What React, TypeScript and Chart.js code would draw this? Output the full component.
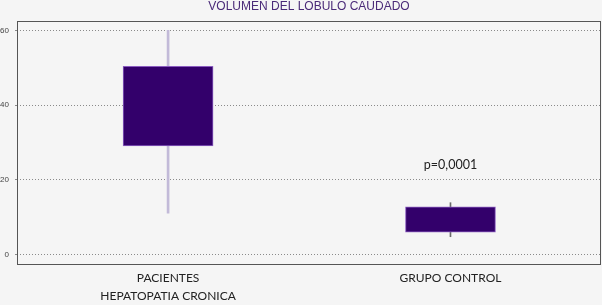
import React, { useEffect, useRef } from "react";
import { Chart, registerables } from "chart.js";

Chart.register(...registerables);

const categories: string[][] = [["PACIENTES", "HEPATOPATIA CRONICA"], ["GRUPO CONTROL"]];
const categoryPositions = [0, 1];
const boxLow = [29.1, 6.0];
const boxHigh = [50.4, 12.8];
const whiskerLow = [11.1, 4.8];
const whiskerHigh = [60, 13.9];
const yTicks = [0, 20, 40, 60];
const pValueText = "p=0,0001";
const pValueCategory = 1;
const pValueY = 24;
const chartTitle = "VOLUMEN DEL LOBULO CAUDADO";

const frameAndText = {
  id: "frameAndText",
  beforeDraw(chart: any) {
    const { ctx, width, height } = chart;
    ctx.save();
    ctx.fillStyle = "#f5f5f5";
    ctx.fillRect(0, 0, width, height);
    ctx.restore();
  },
  afterDraw(chart: any) {
    const { ctx, chartArea, scales } = chart;
    ctx.save();
    ctx.strokeStyle = "#555";
    ctx.lineWidth = 1;
    ctx.strokeRect(
      Math.round(chartArea.left) + 0.5,
      Math.round(chartArea.top) + 0.5,
      Math.round(chartArea.right - chartArea.left) - 1,
      Math.round(chartArea.bottom - chartArea.top)
    );
    ctx.textAlign = "center";
    ctx.textBaseline = "middle";
    ctx.fillStyle = "#4a2a78";
    ctx.font = "12px 'Liberation Sans', Arial, sans-serif";
    ctx.fillText(chartTitle, (chartArea.left + chartArea.right) / 2, 7);
    ctx.fillStyle = "#222";
    ctx.font = "12.5px Lato, 'Open Sans', sans-serif";
    ctx.fillText(
      pValueText,
      scales.x.getPixelForValue(categoryPositions[pValueCategory]),
      scales.y.getPixelForValue(pValueY)
    );
    ctx.restore();
  },
};

export default function App() {
  const ref = useRef<HTMLCanvasElement>(null);
  useEffect(() => {
    document.body.style.margin = "0";
    const canvas = ref.current!;
    const chart = new Chart(canvas, {
      type: "bar",
      data: {
        datasets: [
          {
            label: "box",
            data: categoryPositions.map((x, i) => ({ x, y: [boxLow[i], boxHigh[i]] })) as any,
            backgroundColor: "#33006b",
            borderColor: "#8a5cc0",
            borderWidth: 1,
            borderSkipped: false,
            barThickness: 90,
            grouped: false,
          } as any,
          {
            label: "whiskerA",
            data: [{ x: categoryPositions[0], y: [whiskerLow[0], whiskerHigh[0]] }] as any,
            backgroundColor: "#c2bad8",
            borderWidth: 0,
            barThickness: 2,
            grouped: false,
          } as any,
          {
            label: "whiskerB",
            data: [{ x: categoryPositions[1], y: [whiskerLow[1], whiskerHigh[1]] }] as any,
            backgroundColor: "#6a6a6a",
            borderWidth: 0,
            barThickness: 1,
            grouped: false,
          } as any,
        ],
      },
      options: {
        responsive: false,
        animation: false,
        layout: { padding: { top: 21, right: 1, left: 0, bottom: 0 } },
        plugins: {
          legend: { display: false },
          tooltip: { enabled: false },
          title: { display: false },
        },
        scales: {
          x: {
            type: "linear",
            offset: false,
            min: -0.535,
            max: 1.533,
            grid: { display: false, drawTicks: false, offset: false },
            border: { display: false },
            afterBuildTicks: (s: any) => {
              s.ticks = categoryPositions.map((v) => ({ value: v }));
            },
            afterFit: (s: any) => {
              s.height = 41;
            },
            ticks: {
              autoSkip: false,
              maxRotation: 0,
              padding: 5,
              color: "#222",
              font: { family: "Lato, 'Open Sans', sans-serif", size: 12, lineHeight: 1.5 },
              callback: (v: any) => {
                const i = categoryPositions.indexOf(Number(v));
                return i >= 0 ? categories[i] : "";
              },
            },
          },
          y: {
            type: "linear",
            min: -2.5,
            max: 62.5,
            afterBuildTicks: (s: any) => {
              s.ticks = yTicks.map((v) => ({ value: v }));
            },
            afterFit: (s: any) => {
              s.width = 17;
            },
            border: { display: false, dash: [1, 2] },
            grid: {
              color: "#8a8a8a",
              lineWidth: 1,
              tickLength: 2,
              drawTicks: true,
            },
            ticks: {
              padding: 6,
              color: "#444",
              font: { family: "'Liberation Sans', Arial, sans-serif", size: 8 },
            },
          },
        },
      } as any,
      plugins: [frameAndText],
    });
    return () => chart.destroy();
  }, []);
  return <canvas ref={ref} width={602} height={305} style={{ display: "block", width: 602, height: 305 }} />;
}
